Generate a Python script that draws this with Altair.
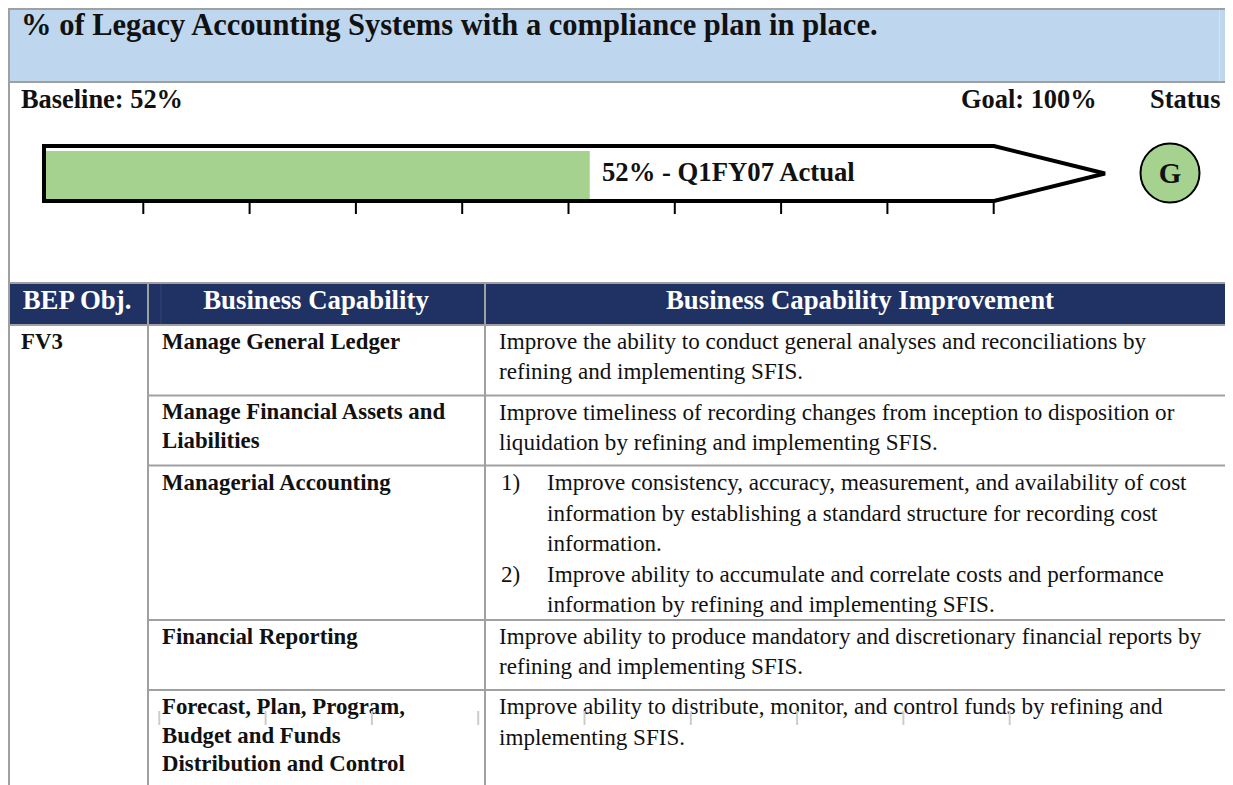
import altair as alt
import pandas as pd

FONT = "Liberation Serif"
INK = "#111111"
GRID = "#A0A0A0"
NAVY = "#1F3263"
BAND = "#BFD7EE"
GREEN = "#A6D28F"

# ---- values
title_text = "% of Legacy Accounting Systems with a compliance plan in place."
baseline_text = "Baseline: 52%"
goal_text = "Goal: 100%"
status_text = "Status"
actual_label = "52% - Q1FY07 Actual"
status_letter = "G"
actual_start = 0.8
actual_value = 52
tick_values = [10, 20, 30, 40, 50, 60, 70, 80, 90]
header_labels = ["BEP Obj.", "Business Capability", "Business Capability Improvement"]
objective = "FV3"
capability_lines = [
    ["Manage General Ledger"],
    ["Manage Financial Assets and", "Liabilities"],
    ["Managerial Accounting"],
    ["Financial Reporting"],
    ["Forecast, Plan, Program,", "Budget and Funds", "Distribution and Control"],
]
improvement_lines = [
    ["Improve the ability to conduct general analyses and reconciliations by",
     "refining and implementing SFIS."],
    ["Improve timeliness of recording changes from inception to disposition or",
     "liquidation by refining and implementing SFIS."],
    [],
    ["Improve ability to produce mandatory and discretionary financial reports by",
     "refining and implementing SFIS."],
    ["Improve ability to distribute, monitor, and control funds by refining and",
     "implementing SFIS."],
]
numbered_marks = ["1)", "2)"]
numbered_lines = [
    ["Improve consistency, accuracy, measurement, and availability of cost",
     "information by establishing a standard structure for recording cost",
     "information."],
    ["Improve ability to accumulate and correlate costs and performance",
     "information by refining and implementing SFIS."],
]

# ---- layout
RIGHT = 1225
WIDTH, HEIGHT = RIGHT - 8, 777
X = alt.Scale(domain=[8, RIGHT], nice=False, zero=False)
Y = alt.Scale(domain=[785, 8], nice=False, zero=False)
# percent scale of the arrow: 0 % sits at page x 37, 10 % every 106.3 px
P = alt.Scale(domain=[(8 - 37) / 10.63, (RIGHT - 37) / 10.63], nice=False, zero=False)


def q(field, scale):
    return alt.X(field, type="quantitative", scale=scale, axis=None)


def qy(field):
    return alt.Y(field, type="quantitative", scale=Y, axis=None)


def rect(x0, x1, y0, y1, color):
    d = pd.DataFrame({"a": [x0], "b": [x1], "c": [y0], "e": [y1]})
    return alt.Chart(d).mark_rect(color=color, stroke=None).encode(
        x=q("a", X), x2="b", y=qy("c"), y2="e")


def rules(rows, color=GRID, width=2, scale=X, **kw):
    d = pd.DataFrame(rows, columns=["a", "b", "c", "e"])
    return alt.Chart(d).mark_rule(color=color, strokeWidth=width, **kw).encode(
        x=q("a", scale), x2="b", y=qy("c"), y2="e")


def texts(rows, size, weight="normal", color=INK, align="left"):
    d = pd.DataFrame(rows, columns=["t", "a", "c"])
    return alt.Chart(d).mark_text(
        font=FONT, fontSize=size, fontWeight=weight, color=color,
        align=align, baseline="alphabetic").encode(
        x=q("a", X), y=qy("c"), text="t:N")


layers = []
# header band
layers.append(rect(8, RIGHT, 8, 82, BAND))
layers.append(rules([[1219.5, 1219.5, 8, 82]], color="#D3E3F3", width=1))
layers.append(rules([[8, RIGHT, 9, 9], [8, RIGHT, 82, 82]]))
layers.append(texts([[title_text, 21, 35]], 30.5, "bold"))
layers.append(texts([[baseline_text, 21, 108], [goal_text, 961, 108], [status_text, 1150, 108]], 26.4, "bold"))

# arrow
layers.append(alt.Chart(pd.DataFrame({"p": [actual_start], "p2": [actual_value], "c": [199], "e": [151]}))
              .mark_rect(color=GREEN).encode(x=q("p", P), x2="p2", y=qy("c"), y2="e"))
outline = pd.DataFrame({
    "a": [44, 994, 1105, 994, 44, 44],
    "c": [146, 146, 173.5, 201, 201, 146],
    "o": [0, 1, 2, 3, 4, 5]})
layers.append(alt.Chart(outline).mark_line(color="#000000", strokeWidth=4, strokeJoin="miter", strokeCap="square")
              .encode(x=q("a", X), y=qy("c"), order="o:Q"))
layers.append(rules([[v, v, 202, 214] for v in tick_values], color="#000000", scale=P))
layers.append(texts([[actual_label, 602, 181]], 26.7, "bold"))
layers.append(alt.Chart(pd.DataFrame({"a": [1170], "c": [173]}))
              .mark_point(shape="circle", filled=True, size=3481, fill=GREEN, stroke="#000000",
                          strokeWidth=2, opacity=1)
              .encode(x=q("a", X), y=qy("c")))
layers.append(texts([[status_letter, 1170, 183]], 29, "bold", align="center"))

# table header
layers.append(rect(8, RIGHT, 283, 325, NAVY))
layers.append(rules([[161, 161, 284, 324]], color="#33467A", width=1))
layers.append(texts([[header_labels[0], 77, 309], [header_labels[1], 316, 309], [header_labels[2], 860, 309]],
                    26.8, "bold", color="#FFFFFF", align="center"))

# table grid
row_lines = [395.5, 465.5, 620, 690]
layers.append(rules([[8, RIGHT, 283, 283], [8, RIGHT, 325, 325]] + [[148, RIGHT, y, y] for y in row_lines]))
layers.append(rules([[148, 148, 283, 785], [485, 485, 283, 785], [9, 9, 9, 785]]))

# table text
BOLD, BODY = 22.8, 23.1
cap_base = [[349], [419, 448], [490], [644], [714, 743, 771]]
imp_base = [[349, 379], [420, 450], [], [644, 674], [714, 745]]
num_base = [[490, 521, 551], [582, 612]]
layers.append(texts([[objective, 21, 349]], BOLD, "bold"))
layers.append(texts([[t, 162, b] for ls, bs in zip(capability_lines, cap_base) for t, b in zip(ls, bs)], BOLD, "bold"))
layers.append(texts([[t, 499, b] for ls, bs in zip(improvement_lines, imp_base) for t, b in zip(ls, bs)], BODY))
layers.append(texts([[m, 501, bs[0]] for m, bs in zip(numbered_marks, num_base)], BODY))
layers.append(texts([[t, 547, b] for ls, bs in zip(numbered_lines, num_base) for t, b in zip(ls, bs)], BODY))

# faint tick marks showing through the last row
d = pd.DataFrame({"p": tick_values, "c": [711] * 9, "e": [725] * 9})
layers.append(alt.Chart(d).mark_rule(color="#CCCCCC", strokeWidth=2, xOffset=16)
              .encode(x=q("p", P), y=qy("c"), y2="e"))

chart = (alt.layer(*layers)
         .resolve_scale(x="independent")
         .properties(width=WIDTH, height=HEIGHT, padding=0,
                     autosize=alt.AutoSizeParams(type="none"))
         .configure_view(stroke=None))

chart.save("out.html", embed_options={"renderer": "svg", "actions": False})
